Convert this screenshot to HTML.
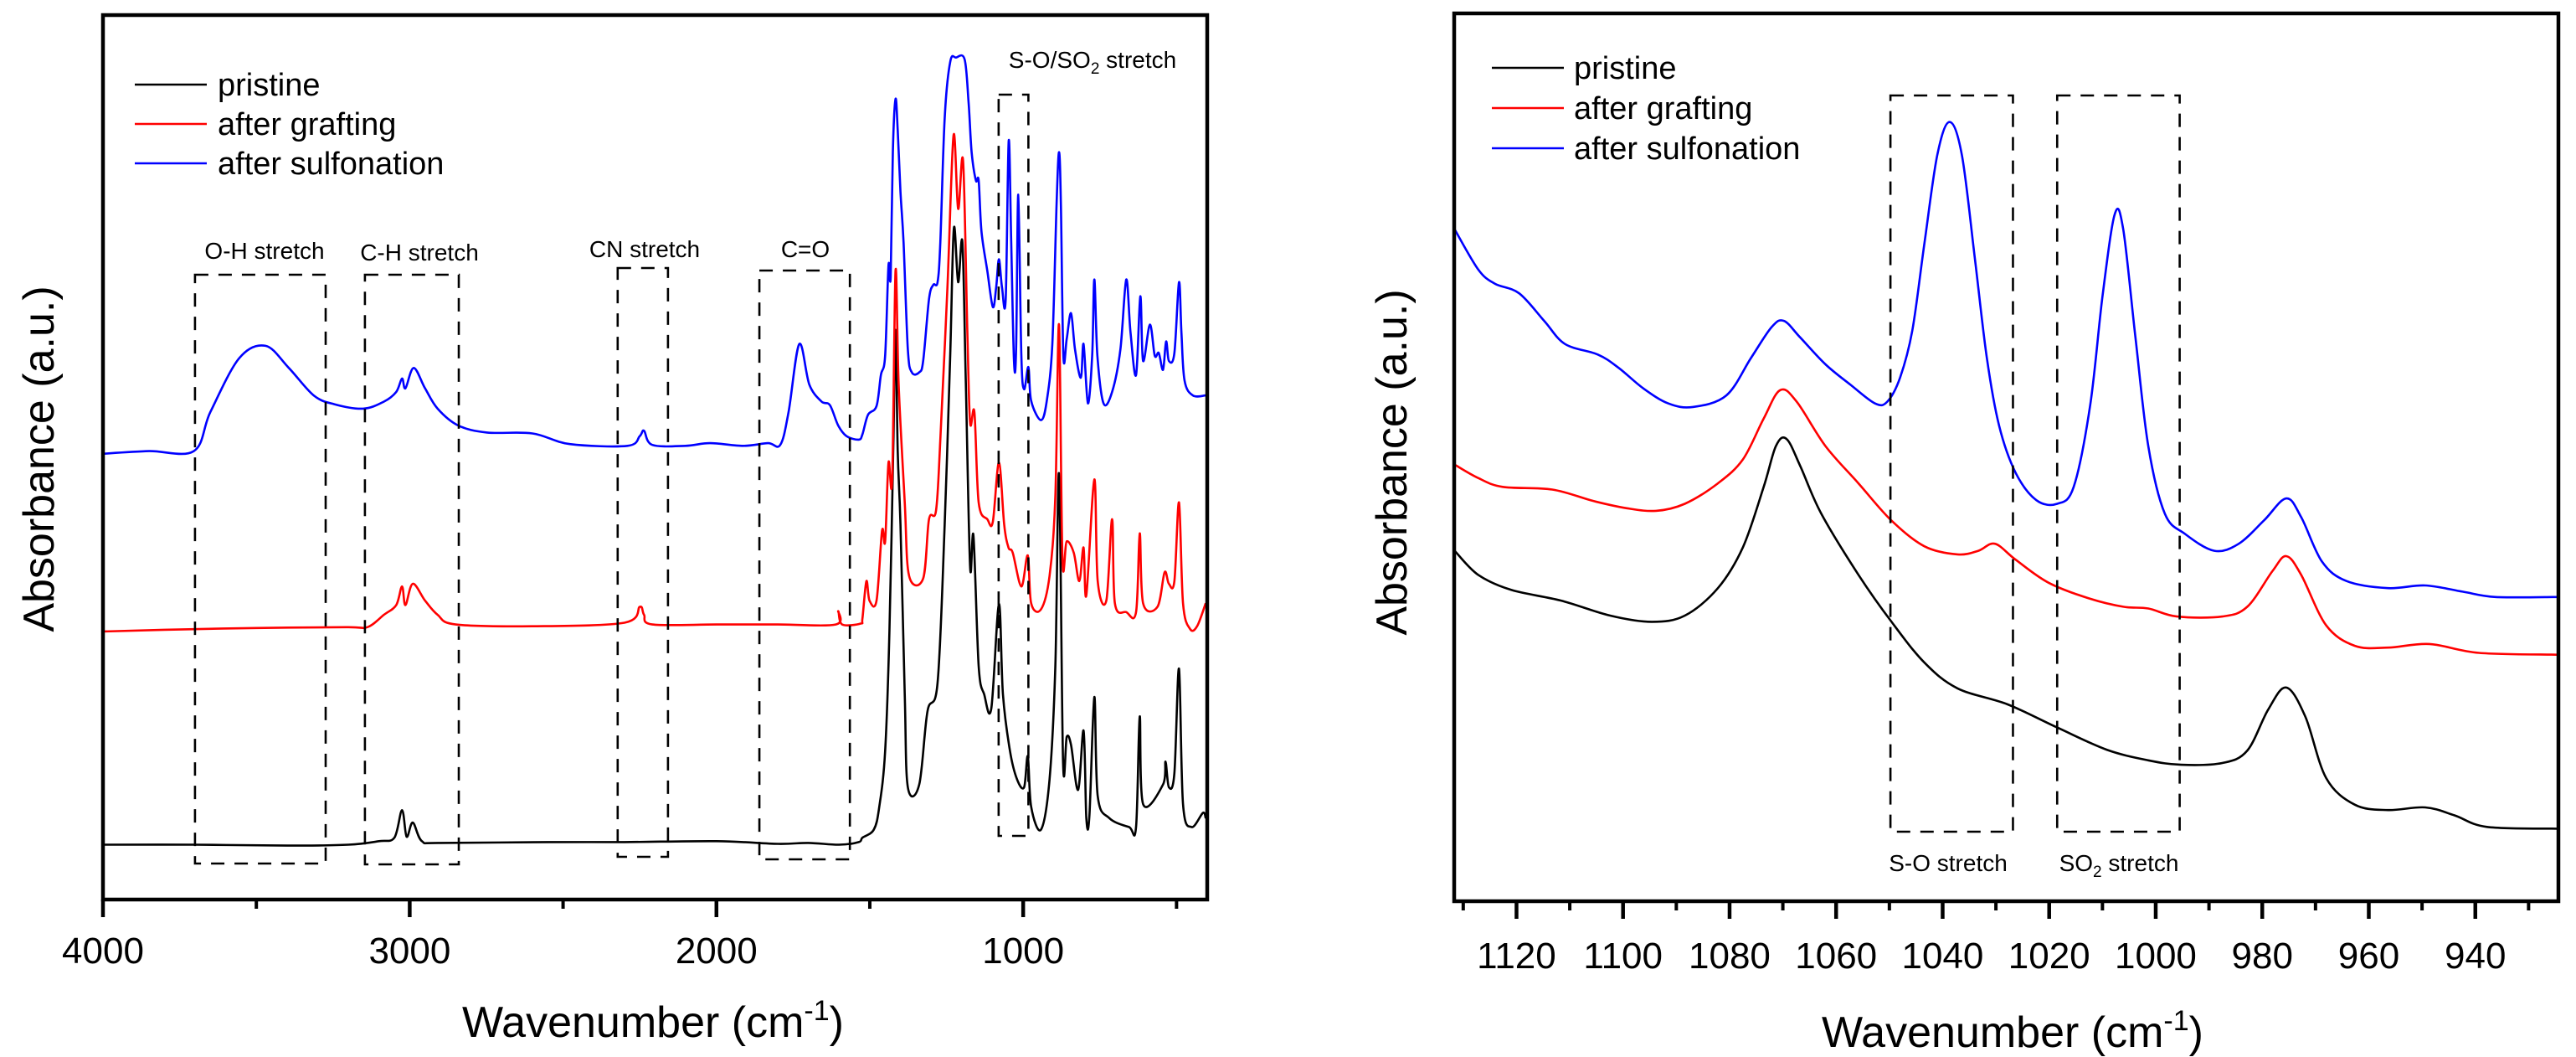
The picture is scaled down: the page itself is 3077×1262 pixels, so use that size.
<!DOCTYPE html>
<html><head><meta charset="utf-8">
<style>
html,body{margin:0;padding:0;background:#fff;}
svg{display:block;font-family:"Liberation Sans",Arial,sans-serif;}
</style></head>
<body>
<svg id="fig" width="3077" height="1262" viewBox="0 0 3077 1262" xmlns="http://www.w3.org/2000/svg">
<g id="left"></g>
<g id="right"></g>
</svg>
<script>
// ---------- Left panel data (wavenumber, relative absorbance 0-100) ----------
const leftPristineWn = [4000,3700,3400,3200,3100,3050,3025,3010,2990,2960,2900,2550,2300,2000,1800,1700,1600,1536,1524,1487,1469,1450,1436,1423,1416,1409,1400,1386,1376,1339,1312,1279,1256,1238,1226,1212,1198,1187,1173,1162,1145,1127,1104,1079,1066,1043,1020,997,985,974,942,914,895,883,870,858,844,821,803,794,784,768,757,719,655,632,620,609,544,536,525,507,492,479,451,414,405];
const leftPristineAbs = [6.2,6.2,6.1,6.2,6.6,7.0,10.1,7.1,8.7,6.6,6.4,6.5,6.5,6.6,6.3,6.4,6.2,6.5,7,7.9,10.5,16.8,30.3,52,64.4,50.7,42.4,23.2,12.7,13,21.3,24.5,42.4,61.5,75.9,69.8,74.3,58.3,37.6,41.1,26.4,23.2,21.6,33.4,23.2,16.8,13.6,12.7,16.2,10.5,7.9,13.6,26.4,48.1,15.6,18.4,17.5,12.4,19.1,9.2,9.5,22.9,11.7,9.2,8.2,8.2,20.7,10.8,13,15.6,12.7,14.3,26.1,10.8,8.2,9.8,9.2];
const leftGraftWn = [4000,3800,3500,3206,3138,3084,3044,3025,3014,2990,2950,2909,2850,2600,2300,2250,2236,2209,2000,1800,1611,1603,1590,1530,1524,1511,1501,1478,1460,1450,1439,1427,1416,1406,1386,1372,1326,1307,1284,1270,1247,1227,1212,1196,1182,1173,1159,1145,1117,1099,1079,1062,1048,1034,1006,985,974,942,914,895,883,872,858,835,817,803,794,768,757,729,710,701,664,632,620,609,562,539,525,507,492,479,456,433,405];
const leftGraftAbs = [30.3,30.5,30.7,30.8,30.8,32.2,33.3,35.4,33.3,35.7,33.8,32.2,31.1,30.9,31.3,33.1,32.2,31.1,31.1,31.1,31.1,32.6,31.1,31.2,31.8,36,33.8,33.8,41.7,40.5,49.4,47.5,71.1,58.3,44.9,36.6,36.3,43,44,52,69.2,86.4,78.1,83.5,64.1,53.9,55.1,44.9,43,42.7,49.4,42.4,39.8,39.2,35.4,38.9,33.5,32.8,36.6,45.6,65,38.5,40.5,39.2,36,39.8,34.4,47.5,36,33.8,43,33.5,32.5,32.5,41.4,33.5,33.1,37,35.7,36,44.9,33.5,30.6,30.9,33.5];
const leftSulfWn = [4000,3850,3704,3650,3556,3470,3394,3313,3246,3152,3084,3044,3025,3014,2987,2950,2909,2842,2748,2600,2478,2290,2250,2236,2209,2101,2021,1913,1832,1792,1765,1730,1697,1657,1630,1603,1576,1536,1524,1506,1478,1464,1450,1439,1432,1425,1416,1409,1400,1390,1376,1363,1339,1326,1307,1293,1279,1270,1256,1238,1219,1191,1178,1168,1154,1145,1136,1117,1099,1088,1079,1069,1057,1047,1039,1030,1023,1016,1006,997,983,974,942,923,905,891,883,877,869,858,844,831,812,803,789,775,768,758,738,710,683,664,650,632,618,609,587,571,558,544,534,525,507,492,484,474,447,405];
const leftSulfAbs = [50.4,50.7,50.7,55.1,61.2,62.6,60.1,57.0,56.0,55.5,56.3,57.4,58.9,57.8,60.1,57.8,55.5,53.6,52.8,52.7,51.5,51.3,52.4,53.0,51.4,51.3,51.6,51.3,51.6,51.4,55.1,62.8,58.2,56.3,55.9,53.6,52.4,52.0,52.6,54.8,55.8,59.3,61.5,71.7,70.4,84.5,90.5,87,80,74.3,62.2,59.6,59.6,60.9,67.9,69.5,69.8,74.3,88.3,94.7,95.2,95,90.2,84.5,81.3,81.3,75.6,71.1,67,69.2,72.4,69.2,67.9,85.8,74.3,60.9,62.2,79.7,61.5,57.7,60.2,56.4,54.2,56.4,62.8,78.7,84.5,78.7,61.5,63.4,66.3,62.2,59,62.8,56.1,61.5,70.1,61.5,56.1,57.4,62.2,70.1,64.1,59.3,68.2,60.9,65,61.5,61.8,59.9,63.1,60.9,61.8,69.8,64.1,58.7,57,57];
const leftTicks = [4000,3000,2000,1000];
const leftTickLabels = ["4000","3000","2000","1000"];
const leftMinorTicks = [3500,2500,1500,500];

// ---------- Right panel data ----------
const rightPristineWn = [1131.6,1127.2,1121,1111.7,1102.4,1094.6,1088.4,1082.2,1077.5,1073.6,1071.3,1069.3,1066.7,1062.8,1055.8,1049.6,1043.4,1037.2,1027.8,1018.5,1009.2,1001.4,995.2,987.5,982.8,978.9,975.5,971.9,968,962.6,956.4,949.4,943.9,937.8,924.6];
const rightPristineAbs = [40.6,37.9,36.2,35,33.3,32.6,33.3,36.4,41,47.8,52.4,53.2,50.1,44.8,37.9,32.6,28,25.1,23.3,20.7,18.2,17,16.5,16.7,18.1,22.7,25.2,21.9,15,12,11.4,11.7,10.8,9.5,9.3];
const rightGraftWn = [1131.6,1127.2,1122.6,1113.3,1105.5,1099.3,1093.8,1088.4,1082.2,1077.5,1073.6,1070.5,1067.4,1062,1055.8,1049.6,1043.4,1037.2,1033.3,1030.2,1026.3,1020.1,1012.3,1006.1,1001.4,996,987.5,982.8,978.1,975.5,972.7,968,962.6,956.4,948.6,939.3,924.6];
const rightGraftAbs = [50.3,48.8,47.8,47.5,46.2,45.4,45.1,45.9,48.2,50.9,55.5,58.7,57.4,52.4,48.2,44,41.1,40.2,40.6,41.4,39.6,37,35.2,34.3,34.1,33.2,33.2,34.3,38.3,40,37.9,32.2,29.9,29.7,30.1,29.1,28.9];
const rightSulfWn = [1131.6,1127.2,1124.1,1119.5,1114.8,1110.9,1104.7,1100.8,1096.2,1091.5,1086.9,1080.6,1076,1072.1,1069.8,1066.7,1062,1057.3,1052.7,1050.4,1048,1045.7,1043.4,1041,1038.7,1036.4,1034,1031.7,1029.4,1026.3,1022.4,1018.5,1015.4,1012.3,1010,1007.7,1006.1,1003.8,1001.4,998.3,994.5,989,984.4,979.7,975.5,972.7,968.8,964.2,956.4,949.4,942.4,936.2,924.6];
const rightSulfAbs = [76.8,72.3,70.7,69.6,66.5,63.9,62.7,61.2,58.9,57.2,56.8,58.1,62.3,65.8,66.5,64.6,61.6,59.3,57.2,57.4,60.1,65.4,75.3,85.2,88.9,85.2,73.8,62.3,54.7,49.4,46.3,45.9,47.8,57,69.2,78.5,76.8,64.6,52.4,44.8,42.5,40.6,41.4,44,46.5,44.4,39.4,37.2,36.4,36.7,36,35.4,35.4];
const rightTicks = [1120,1100,1080,1060,1040,1020,1000,980,960,940];
const rightTickLabels = ["1120","1100","1080","1060","1040","1020","1000","980","960","940"];
const rightMinorTicks = [1130,1110,1090,1070,1050,1030,1010,990,970,950,930];

const NS = "http://www.w3.org/2000/svg";
function mk(parent, tag, attrs, text){
  const el = document.createElementNS(NS, tag);
  for (const k in attrs) el.setAttribute(k, attrs[k]);
  if (text !== undefined) el.textContent = text;
  parent.appendChild(el);
  return el;
}
function scaleX(p, wn){ return p.x0 + (p.wMax - wn) / (p.wMax - p.wMin) * (p.x1 - p.x0); }
function scaleY(p, v){ return p.yd1 - v / 100 * (p.yd1 - p.yd0); }
function smoothPath(pts){
  let d = "M" + pts[0][0].toFixed(1) + "," + pts[0][1].toFixed(1);
  for (let i = 0; i < pts.length - 1; i++){
    const p0 = pts[Math.max(0, i - 1)], p1 = pts[i], p2 = pts[i + 1], p3 = pts[Math.min(pts.length - 1, i + 2)];
    const c1x = p1[0] + (p2[0] - p0[0]) / 6, c1y = p1[1] + (p2[1] - p0[1]) / 6;
    const c2x = p2[0] - (p3[0] - p1[0]) / 6, c2y = p2[1] - (p3[1] - p1[1]) / 6;
    d += "C" + c1x.toFixed(1) + "," + c1y.toFixed(1) + " " + c2x.toFixed(1) + "," + c2y.toFixed(1) + " " + p2[0].toFixed(1) + "," + p2[1].toFixed(1);
  }
  return d;
}

function drawPanel(g, p){
  p.series.forEach(s => {
    const pts = s.wn.map((w, i) => [scaleX(p, w), scaleY(p, s.v[i])]);
    const path = mk(g, "path", {d: smoothPath(pts), fill: "none", stroke: s.color, "stroke-width": 2.6, "stroke-linejoin": "round"});
    
    
  });
  p.boxes.forEach(b => {
    const xa = scaleX(p, b.w1), xb = scaleX(p, b.w2);
    const r = mk(g, "rect", {x: Math.min(xa, xb), y: b.yt, width: Math.abs(xb - xa), height: b.yb - b.yt, fill: "none", stroke: "#000", "stroke-width": 2.6, "stroke-dasharray": "16,12"});
    
    
  });
  const fr = mk(g, "rect", {x: p.x0, y: p.y0, width: p.x1 - p.x0, height: p.y1 - p.y0, fill: "none", stroke: "#000", "stroke-width": 4.5});
  
  
  p.ticks.forEach((t, i) => {
    const x = scaleX(p, t);
    const tk = mk(g, "line", {x1: x, x2: x, y1: p.y1, y2: p.y1 + 21, stroke: "#000", "stroke-width": 4.5});
    
    
    const lb = mk(g, "text", {x: x, y: p.tickY, "font-size": 44, "text-anchor": "middle"}, p.tickLabels[i]);
    
    
  });
  p.minor.forEach(t => {
    const x = scaleX(p, t);
    if (x < p.x0 || x > p.x1) return;
    const tk = mk(g, "line", {x1: x, x2: x, y1: p.y1, y2: p.y1 + 11, stroke: "#000", "stroke-width": 4});
    
    
  });
}

const left = {
  x0: 123, x1: 1442, y0: 18, y1: 1074, yd0: 18, yd1: 1074, wMax: 4000, wMin: 400, tickY: 1150,
  ticks: leftTicks, tickLabels: leftTickLabels, minor: leftMinorTicks,
  series: [
    {name: "pristine-line", color: "#000000", wn: leftPristineWn, v: leftPristineAbs},
    {name: "after-grafting-line", color: "#ff0000", wn: leftGraftWn, v: leftGraftAbs},
    {name: "after-sulfonation-line", color: "#0000ff", wn: leftSulfWn, v: leftSulfAbs}
  ],
  boxes: [
    {name: "oh-stretch-box", w1: 3700, w2: 3274, yt: 328, yb: 1031},
    {name: "ch-stretch-box", w1: 3146, w2: 2840, yt: 328, yb: 1032},
    {name: "cn-stretch-box", w1: 2322, w2: 2158, yt: 320, yb: 1023},
    {name: "co-box", w1: 1860, w2: 1565, yt: 323, yb: 1026},
    {name: "so-so2-box", w1: 1080, w2: 983, yt: 113, yb: 998}
  ]
};
const right = {
  x0: 1737, x1: 3056, y0: 16, y1: 1076, yd0: 28, yd1: 1088, wMax: 1131.7, wMin: 924.4, tickY: 1156,
  ticks: rightTicks, tickLabels: rightTickLabels, minor: rightMinorTicks,
  series: [
    {name: "pristine-line", color: "#000000", wn: rightPristineWn, v: rightPristineAbs},
    {name: "after-grafting-line", color: "#ff0000", wn: rightGraftWn, v: rightGraftAbs},
    {name: "after-sulfonation-line", color: "#0000ff", wn: rightSulfWn, v: rightSulfAbs}
  ],
  boxes: [
    {name: "so-stretch-box", w1: 1049.8, w2: 1026.8, yt: 114, yb: 993},
    {name: "so2-stretch-box", w1: 1018.5, w2: 995.5, yt: 114, yb: 993}
  ]
};
drawPanel(document.getElementById("left"), left);
drawPanel(document.getElementById("right"), right);
</script>
<script>
(function(){
  const svg = document.getElementById("fig");
  const NS2 = "http://www.w3.org/2000/svg";
  function t(x, y, size, txt, name, extra){
    const el = document.createElementNS(NS2, "text");
    el.setAttribute("x", x); el.setAttribute("y", y); el.setAttribute("font-size", size);
    if (extra) for (const k in extra) el.setAttribute(k, extra[k]);
    el.innerHTML = txt;
    
    
    svg.appendChild(el);
    return el;
  }
  function ln(x1, x2, y, color, name){
    const el = document.createElementNS(NS2, "line");
    el.setAttribute("x1", x1); el.setAttribute("x2", x2); el.setAttribute("y1", y); el.setAttribute("y2", y);
    el.setAttribute("stroke", color); el.setAttribute("stroke-width", 2.6);
    
    
    svg.appendChild(el);
  }
  const mid = {"text-anchor": "middle"};
  t(316, 309, 28, "O-H stretch", "oh-stretch-label", mid);
  t(501, 311, 28, "C-H stretch", "ch-stretch-label", mid);
  t(770, 307, 28, "CN stretch", "cn-stretch-label", mid);
  t(962, 307, 28, "C=O", "co-label", mid);
  t(1305, 81, 28, 'S-O/SO<tspan font-size="19" dy="7">2</tspan><tspan dy="-7"> stretch</tspan>', "so-so2-label", mid);
  ln(161, 247, 101, "#000", "legend-pristine-line");
  ln(161, 247, 148, "#ff0000", "legend-grafting-line");
  ln(161, 247, 195, "#0000ff", "legend-sulfonation-line");
  t(260, 114, 38, "pristine", "legend-pristine-label");
  t(260, 161, 38, "after grafting", "legend-grafting-label");
  t(260, 208, 38, "after sulfonation", "legend-sulfonation-label");
  t(64, 548, 52, "Absorbance (a.u.)", "left-y-axis-title", {"text-anchor": "middle", transform: "rotate(-90 64 548)"});
  t(780, 1238, 52, 'Wavenumber (cm<tspan font-size="34" dy="-20">-1</tspan><tspan dy="20">)</tspan>', "left-x-axis-title", mid);
  t(2327, 1040, 28, "S-O stretch", "so-stretch-label", mid);
  t(2531, 1040, 28, 'SO<tspan font-size="19" dy="7">2</tspan><tspan dy="-7"> stretch</tspan>', "so2-stretch-label", mid);
  ln(1782, 1868, 81, "#000", "legend-pristine-line");
  ln(1782, 1868, 129, "#ff0000", "legend-grafting-line");
  ln(1782, 1868, 177, "#0000ff", "legend-sulfonation-line");
  t(1880, 94, 38, "pristine", "legend-pristine-label");
  t(1880, 142, 38, "after grafting", "legend-grafting-label");
  t(1880, 190, 38, "after sulfonation", "legend-sulfonation-label");
  t(1680, 552, 52, "Absorbance (a.u.)", "right-y-axis-title", {"text-anchor": "middle", transform: "rotate(-90 1680 552)"});
  t(2404, 1250, 52, 'Wavenumber (cm<tspan font-size="34" dy="-20">-1</tspan><tspan dy="20">)</tspan>', "right-x-axis-title", mid);
})();
</script>
</body></html>
